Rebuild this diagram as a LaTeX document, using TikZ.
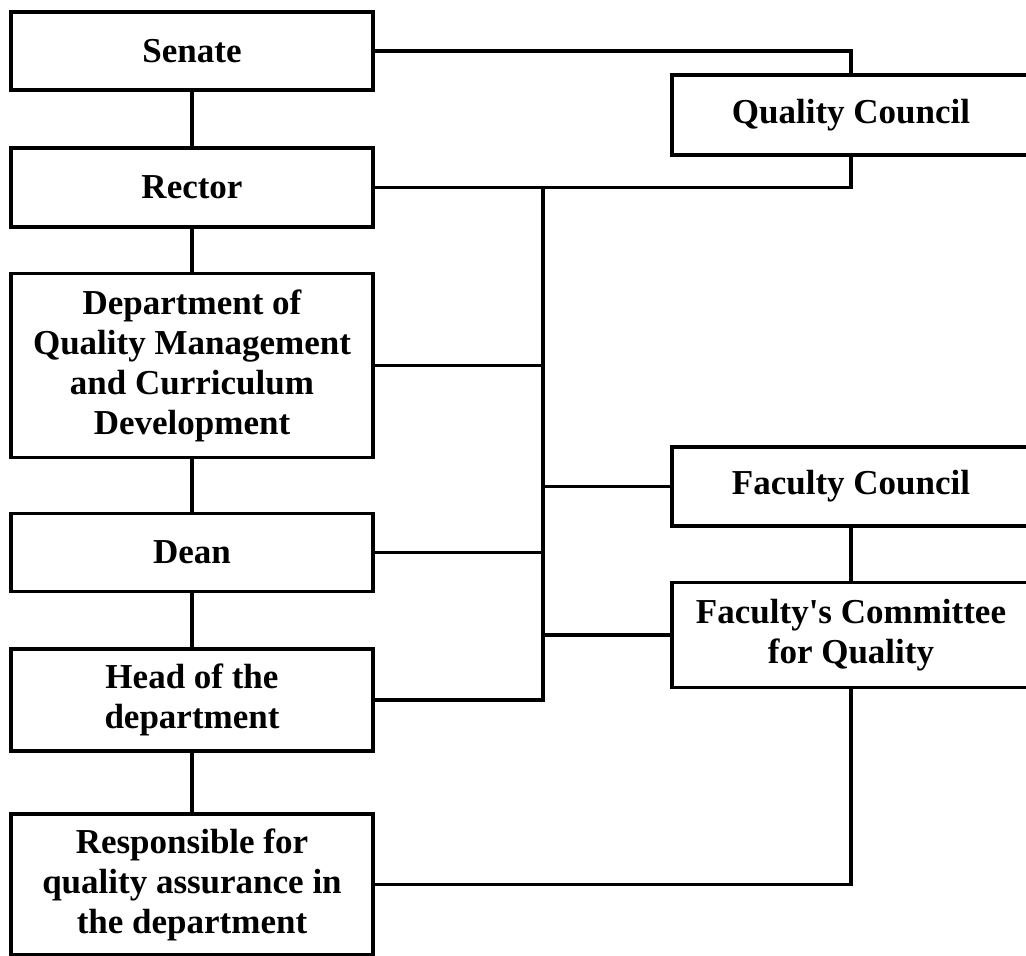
\documentclass[tikz,border=0pt]{standalone}
\usepackage{fontspec}
\setmainfont{Liberation Serif}
\begin{document}
\begin{tikzpicture}[x=1pt,y=-1pt,
  box/.style={draw=black, line width=3.5pt, fill=white, align=center, inner sep=0pt,
    font=\bfseries\fontsize{35}{40}\selectfont},
  lbox/.style={box, minimum width=362pt},
  rbox/.style={box, minimum width=358pt},
  link/.style={draw=black, line width=3.5pt}]
\useasboundingbox (0,0) rectangle (1026,956);
\clip (0,0) rectangle (1026,956);
% left column
\node[lbox, minimum height=78pt] (senate) at (192,51) {Senate};
\node[lbox, minimum height=79pt] (rector) at (192,187.5) {Rector};
\node[lbox, minimum height=184pt] (dept) at (192,365.5) {Department of\\Quality Management\\and Curriculum\\Development};
\node[lbox, minimum height=78pt] (dean) at (192,552.5) {Dean};
\node[lbox, minimum height=102pt] (head) at (192,700) {Head of the\\department};
\node[lbox, minimum height=141pt] (resp) at (192,884.5) {Responsible for\\quality assurance in\\the department};
% right column
\node[rbox, minimum height=80pt] (qc) at (851,115) {Quality Council};
\node[rbox, minimum height=79pt] (fc) at (851,486.5) {Faculty Council};
\node[rbox, minimum height=105pt] (fcq) at (851,635) {Faculty\textquotesingle s Committee\\for Quality};
% bus
\coordinate (bt) at (543,187.5);
% connectors
\draw[link] (senate) -- (rector);
\draw[link] (rector) -- (dept);
\draw[link] (dept) -- (dean);
\draw[link] (dean) -- (head);
\draw[link] (head) -- (resp);
\draw[link] (senate.east) -| (qc.north);
\draw[link] (rector.east) -| (qc.south);
\draw[link] (head.east) -| (bt);
\draw[link] (dept.east) -- (dept.east -| bt);
\draw[link] (dean.east) -- (dean.east -| bt);
\draw[link] (fc.west -| bt) -- (fc.west);
\draw[link] (fcq.west -| bt) -- (fcq.west);
\draw[link] (fc) -- (fcq);
\draw[link] (fcq.south) |- (resp.east);
\end{tikzpicture}
\end{document}
